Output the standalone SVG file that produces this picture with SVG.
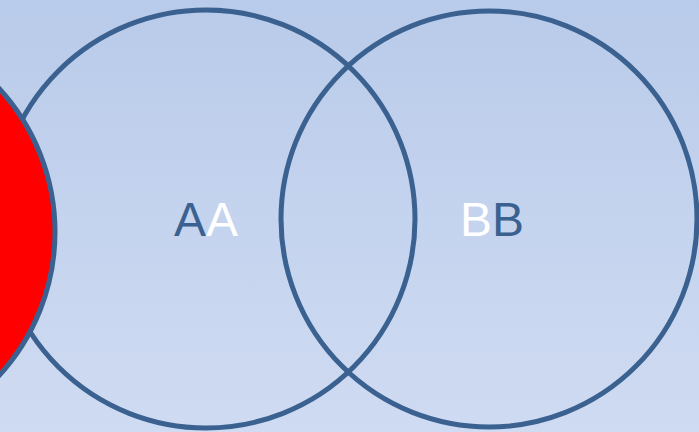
<svg xmlns="http://www.w3.org/2000/svg" width="699" height="432" viewBox="0 0 699 432">
<defs>
<linearGradient id="bg" x1="0" y1="0" x2="0" y2="1">
<stop offset="0" stop-color="#b9cbea"/>
<stop offset="1" stop-color="#cfdbf2"/>
</linearGradient>
</defs>
<style>
.ring{fill:none;stroke:#3a6190;stroke-width:5}
.lbl{font-family:"Liberation Sans",Arial,sans-serif;font-size:48px}
.dk{fill:#3a6190}
.wt{fill:#ffffff}
</style>
<rect width="699" height="432" fill="url(#bg)"/>
<g id="circleA"><circle class="ring" cx="206" cy="219" r="209"/></g>
<g id="circleB"><circle class="ring" cx="489" cy="219" r="208"/></g>
<g id="redCircle"><circle cx="-157" cy="232" r="212" fill="#ff0000" stroke="#3a6190" stroke-width="5"/></g>
<g id="labelA"><text class="lbl" x="206" y="236" text-anchor="middle"><tspan class="dk">A</tspan><tspan class="wt">A</tspan></text></g>
<g id="labelB"><text class="lbl" x="492" y="236" text-anchor="middle"><tspan class="wt">B</tspan><tspan class="dk">B</tspan></text></g>
<g id="connectors"/>
</svg>
